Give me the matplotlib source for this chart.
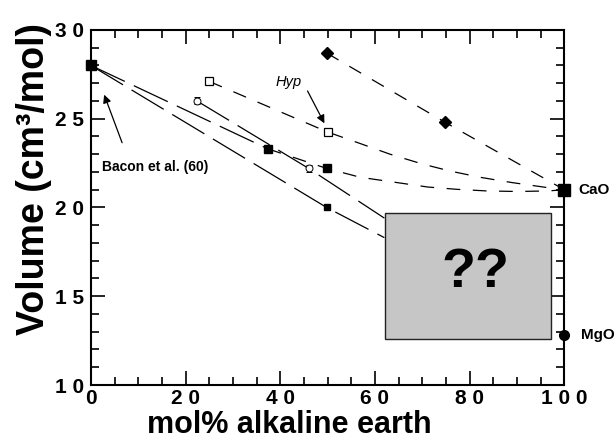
import matplotlib
matplotlib.use('Agg')
import matplotlib.pyplot as plt
from matplotlib.patches import Rectangle

plt.rcParams['font.family'] = 'Liberation Sans'
plt.rcParams['hatch.color'] = '#9c9c9c'
plt.rcParams['hatch.linewidth'] = 0.6

# точки (mol% щелочноземельного, объём)
bacon_x = [0.0]
bacon_y = [28.0]
open_sq_x = [25.0, 50.0]
open_sq_y = [27.1, 24.25]
open_circ_x = [22.4, 46.0]
open_circ_y = [26.0, 22.2]
open_circ_err = [0.2, 0.2]
fill_sq_x = [37.4, 49.8]
fill_sq_y = [23.3, 22.2]
small_sq_x = [49.8]
small_sq_y = [20.0]
diamond_x = [49.8, 74.8]
diamond_y = [28.7, 24.8]
cao_x, cao_y = [100.0], [21.0]
mgo_x, mgo_y = [100.0], [12.8]

# пунктирные линии тренда
hyp_line_x = [25.0, 50.0, 56.9, 63.2, 70.0, 75.9, 82.2, 89.0, 96.4, 100.0]
hyp_line_y = [27.1, 24.25, 23.6, 23.0, 22.45, 22.05, 21.7, 21.4, 21.12, 21.0]
mid_line_x = [37.4, 49.8, 56.9, 64.7, 71.2, 77.4, 83.7, 90.0, 96.6, 100.0]
mid_line_y = [23.3, 22.2, 21.7, 21.4, 21.15, 21.02, 20.93, 20.9, 20.93, 21.0]
dia_line_x = [49.8, 74.8, 100.0]
dia_line_y = [28.7, 24.8, 21.0]
bacon_a_x = [0.0, 37.4]
bacon_a_y = [28.0, 23.3]
bacon_b_x = [0.0, 49.8, 62.0]
bacon_b_y = [28.0, 20.0, 18.3]
circ_line_x = [22.4, 46.0, 62.0]
circ_line_y = [26.0, 22.2, 19.4]

box_x = [62.2, 97.1]
box_y = [12.6, 19.7]

y_ticks = [10, 15, 20, 25, 30]
y_labels = ['1 0', '1 5', '2 0', '2 5', '3 0']
x_ticks = [0, 20, 40, 60, 80, 100]
x_labels = ['0', '2 0', '4 0', '6 0', '8 0', '1 0 0']

fig = plt.figure(figsize=(6.14, 4.4), dpi=100)
ax = fig.add_axes([0.148, 0.125, 0.771, 0.807])

# линии
ax.plot(bacon_a_x, bacon_a_y, 'k', lw=0.9, dashes=(30, 8))
ax.plot(bacon_b_x, bacon_b_y, 'k', lw=0.9, dashes=(30, 8))
ax.plot(circ_line_x, circ_line_y, 'k', lw=0.9, dashes=(30, 8))
ax.plot(hyp_line_x, hyp_line_y, 'k', lw=0.9, dashes=(11, 10))
ax.plot(mid_line_x, mid_line_y, 'k', lw=0.9, dashes=(11, 10))
ax.plot(dia_line_x, dia_line_y, 'k', lw=0.9, dashes=(11, 10))

# маркеры
ax.plot(bacon_x, bacon_y, 's', color='k', ms=6.5, clip_on=False, zorder=6)
ax.plot(open_sq_x, open_sq_y, 's', mfc='white', mec='k', ms=6, mew=0.9, zorder=6)
ax.errorbar(open_circ_x, open_circ_y, yerr=open_circ_err, fmt='o', mfc='white',
            mec='k', ecolor='k', ms=5, mew=0.7, elinewidth=0.7, capsize=2.5, zorder=6)
ax.plot(fill_sq_x, fill_sq_y, 's', color='k', ms=6, zorder=6)
ax.plot(small_sq_x, small_sq_y, 's', color='k', ms=4.5, zorder=6)
ax.plot(diamond_x, diamond_y, 'D', color='k', ms=6, zorder=6)
ax.plot(cao_x, cao_y, 's', color='k', ms=8, clip_on=False, zorder=6)
ax.plot(mgo_x, mgo_y, 'o', color='k', ms=7, clip_on=False, zorder=6)

# серый прямоугольник с ??
ax.add_patch(Rectangle((box_x[0], box_y[0]), box_x[1] - box_x[0], box_y[1] - box_y[0],
                       facecolor='#c6c6c6', edgecolor='none', hatch='......', lw=0, zorder=5))
ax.add_patch(Rectangle((box_x[0], box_y[0]), box_x[1] - box_x[0], box_y[1] - box_y[0],
                       facecolor='none', edgecolor='#222222', lw=1, zorder=5))
ax.text(sum(box_x) / 2 + 1.5, 16.3, '??', fontsize=40, fontweight='bold',
        ha='center', va='center', zorder=7)

# подписи
ax.text(103, cao_y[0], 'CaO', fontsize=11, fontweight='bold', va='center', clip_on=False)
ax.text(103.5, mgo_y[0], 'MgO', fontsize=11, fontweight='bold', va='center', clip_on=False)
ax.text(2.3, 22.3, 'Bacon et al. (60)', fontsize=10, fontweight='bold', va='center')
ax.annotate('', xy=(2.6, 26.5), xytext=(6.8, 23.5),
            arrowprops=dict(arrowstyle='-|>', color='k', lw=0.9, mutation_scale=12))
ax.text(41.7, 27.05, 'Hyp', fontsize=10.5, style='italic', ha='center', va='center')
ax.annotate('', xy=(49.6, 24.6), xytext=(45.5, 26.7),
            arrowprops=dict(arrowstyle='-|>', color='k', lw=0.9, mutation_scale=12))

ax.set_xlim(0, 100)
ax.set_ylim(10, 30)
ax.set_xticks(x_ticks)
ax.set_xticklabels(x_labels)
ax.set_yticks(y_ticks)
ax.set_yticklabels(y_labels)
ax.set_xticks(range(0, 101, 5), minor=True)
ax.set_yticks(range(10, 31), minor=True)
ax.tick_params(which='both', direction='in', top=True, right=True, width=1.2)
ax.tick_params(which='major', length=10, labelsize=15)
ax.tick_params(axis='y', which='major', pad=5)
ax.tick_params(axis='x', which='major', pad=3)
ax.tick_params(which='minor', length=6)
for lab in ax.get_xticklabels() + ax.get_yticklabels():
    lab.set_fontweight('bold')
for s in ax.spines.values():
    s.set_linewidth(1.5)

ax.set_xlabel('mol% alkaline earth', fontsize=22, fontweight='bold')
ax.set_ylabel('Volume (cm³/mol)', fontsize=27, fontweight='bold')
ax.xaxis.set_label_coords(0.42, -0.07)
ax.yaxis.set_label_coords(-0.082, 0.58)

fig.savefig('out.png', dpi=100)
